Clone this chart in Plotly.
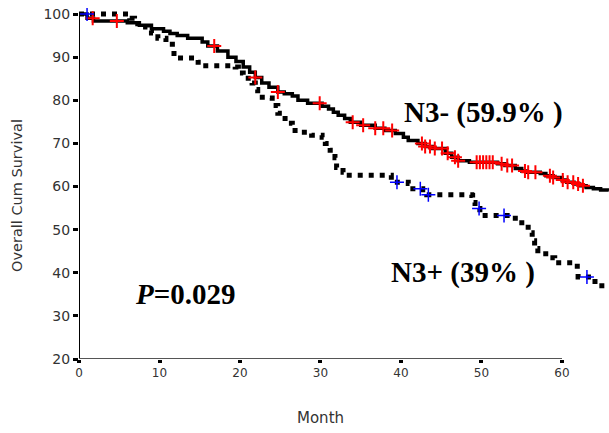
import numpy as np
import plotly.graph_objects as go

# ---- data ----
neg_months = [0, 1.0, 1.8, 6.0, 7.5, 9.0, 10.5, 11.3, 12.2, 13.5, 15.3, 16.0, 17.2, 18.5, 19.5,
              20.4, 21.2, 21.9, 22.7, 23.6, 24.7, 25.5, 26.5, 27.2, 28.4, 30.2, 31.0, 31.6, 32.2,
              33.0, 33.7, 35.0, 36.8, 38.0, 39.3, 40.3, 40.9, 42.1, 43.0, 43.9, 45.5, 46.3, 47.1,
              48.5, 52.0, 52.9, 54.2, 55.0, 55.6, 57.3, 58.0, 58.9, 60.0, 60.6, 61.5, 62.2, 63.0,
              63.9, 64.8, 65.8]
neg_surv = [100, 99.0, 98.4, 98.0, 97.4, 96.6, 96.0, 95.5, 95.0, 94.4, 93.5, 92.6, 91.4, 90.0, 89.0,
            87.7, 86.5, 85.3, 84.0, 83.0, 81.9, 81.5, 81.0, 80.0, 79.3, 78.6, 78.0, 77.2, 76.5,
            75.8, 74.9, 74.2, 73.5, 73.0, 72.3, 71.4, 70.7, 70.0, 69.3, 68.8, 67.7, 66.8, 66.0,
            65.6, 65.3, 64.9, 64.2, 63.6, 63.3, 63.0, 62.5, 62.1, 61.5, 61.0, 60.6, 60.2, 59.8,
            59.5, 59.2, 59.0]

pos_months = [0, 6.3, 6.9, 7.3, 8.5, 9.0, 9.8, 10.8, 11.6, 11.8, 14.8, 15.3, 19.4, 19.8, 20.4,
              21.5, 21.9, 22.2, 23.4, 24.0, 24.7, 25.6, 26.5, 27.2, 28.9, 30.2, 30.6, 31.2, 31.8,
              32.0, 32.8, 33.0, 38.8, 40.9, 41.1, 42.7, 43.2, 48.8, 48.9, 49.2, 49.8, 54.2, 55.6,
              55.8, 56.3, 56.6, 57.0, 58.5, 59.1, 61.9, 62.0, 63.7, 64.1, 65.8]
pos_surv = [100, 99.0, 97.8, 97.0, 96.2, 95.6, 94.4, 93.0, 92.0, 89.8, 88.8, 88.0, 87.7, 86.3, 85.1,
            84.0, 82.5, 80.7, 80.5, 78.8, 77.0, 74.7, 73.0, 72.6, 71.9, 71.4, 70.0, 68.4, 66.7,
            64.4, 63.3, 62.6, 61.0, 60.7, 59.5, 58.4, 58.1, 57.9, 56.3, 54.9, 53.3, 51.6, 51.4,
            49.3, 47.4, 45.6, 44.4, 43.5, 42.3, 40.5, 39.0, 38.7, 37.0, 37.0]

neg_censored = [1.7, 4.7, 16.8, 21.9, 24.7, 29.9, 34.0, 35.3, 36.8, 37.8, 38.9, 42.6, 43.0, 43.6,
                44.2, 45.1, 45.8, 46.7, 47.1, 49.4, 49.8, 50.2, 50.6, 51.0, 51.4, 52.5, 53.2,
                53.8, 55.4, 55.8, 56.7, 58.5, 58.9, 60.1, 60.7, 61.4, 62.0, 62.6]
pos_censored = [1.0, 39.5, 42.4, 43.4, 49.7, 52.8, 63.1]

x_ticks = [0, 10, 20, 30, 40, 50, 60]
y_ticks = [20, 30, 40, 50, 60, 70, 80, 90, 100]

label_neg = "N3- (59.9% )"
label_pos = "N3+ (39% )"
p_label = "<i>P</i>=0.029"


def step_at(times, surv, t):
    idx = np.searchsorted(np.asarray(times), np.asarray(t), side="right") - 1
    return list(np.asarray(surv)[idx])


fig = go.Figure()

fig.add_trace(go.Scatter(x=pos_months, y=pos_surv, mode="lines", line_shape="hv",
                         line=dict(color="black", width=5, dash="5px,6px"),
                         showlegend=False, hoverinfo="skip"))
fig.add_trace(go.Scatter(x=neg_months, y=neg_surv, mode="lines", line_shape="hv",
                         line=dict(color="black", width=3.5),
                         showlegend=False, hoverinfo="skip"))
fig.add_trace(go.Scatter(x=neg_censored, y=step_at(neg_months, neg_surv, neg_censored),
                         mode="markers",
                         marker=dict(symbol="cross-thin", size=10, line=dict(color="#ff0000", width=2)),
                         showlegend=False, hoverinfo="skip"))
fig.add_trace(go.Scatter(x=pos_censored, y=step_at(pos_months, pos_surv, pos_censored),
                         mode="markers",
                         marker=dict(symbol="cross-thin", size=10, line=dict(color="#0000ff", width=1.5)),
                         showlegend=False, hoverinfo="skip"))

# axis lines (only across the labelled span)
fig.add_shape(type="line", xref="x", yref="y", x0=0, x1=0, y0=20, y1=100,
              line=dict(color="black", width=2))
fig.add_shape(type="line", xref="x", yref="y", x0=0, x1=60, y0=20, y1=20,
              line=dict(color="#555555", width=2))

fig.update_xaxes(range=[0, 65.84], tickvals=x_ticks, ticks="outside", ticklen=3, tickwidth=4,
                 tickcolor="black", showline=False, showgrid=False, zeroline=False,
                 ticklabeloverflow="allow",
                 tickfont=dict(family="DejaVu Sans", size=12, color="#333333"))
fig.update_yaxes(range=[20, 101.4], tickvals=y_ticks, ticks="outside", ticklen=5, tickwidth=3,
                 tickcolor="black", showline=False, showgrid=False, zeroline=False,
                 ticklabeloverflow="allow",
                 tickfont=dict(family="DejaVu Sans", size=14, color="#333333"))

W, H = 609, 433
ml, mr, mt, mb = 79, 0, 8, 74


def to_paper(px, py):
    return ((px - ml) / (W - ml - mr), 1 - (py - mt) / (H - mt - mb))


serif = dict(family="Liberation Serif", size=29, color="black")
for txt, px, py in [("<b>" + label_neg + "</b>", 483, 112),
                    ("<b>" + label_pos + "</b>", 463, 272),
                    ("<b>" + p_label + "</b>", 185, 294)]:
    ax, ay = to_paper(px, py)
    fig.add_annotation(x=ax, y=ay, xref="paper", yref="paper", text=txt, showarrow=False,
                       xanchor="center", yanchor="middle", font=serif)

ax, ay = to_paper(17, 196)
fig.add_annotation(x=ax, y=ay, xref="paper", yref="paper", text="Overall Cum Survival",
                   textangle=-90, showarrow=False, xanchor="center", yanchor="middle",
                   font=dict(family="DejaVu Sans", size=14.5, color="#333333"))
ax, ay = to_paper(320, 418)
fig.add_annotation(x=ax, y=ay, xref="paper", yref="paper", text="Month", showarrow=False,
                   xanchor="center", yanchor="middle",
                   font=dict(family="DejaVu Sans", size=15, color="#333333"))

fig.update_layout(width=W, height=H, margin=dict(l=ml, r=mr, t=mt, b=mb, autoexpand=False),
                  plot_bgcolor="white", paper_bgcolor="white")

fig.write_html("out.html", config={"displayModeBar": False},
               post_script="document.body.style.margin='0px';")
